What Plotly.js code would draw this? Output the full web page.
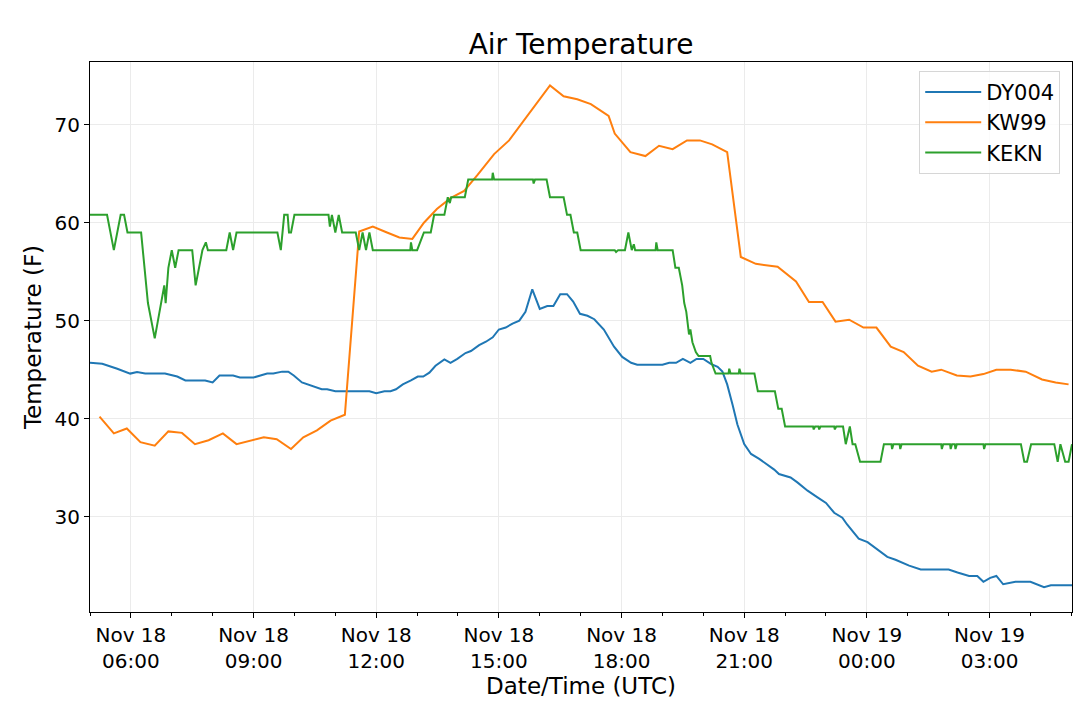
<!DOCTYPE html>
<html>
<head>
<meta charset="utf-8">
<script src="https://cdn.plot.ly/plotly-3.0.1.min.js"></script>
<style>
  html, body { margin: 0; padding: 0; background: #fff; }
  #chart { width: 1080px; height: 706px; }
</style>
</head>
<body>
<div id="chart"></div>
<script>
// times are "DD HH:MM" in November 2019 (UTC)
const dyTimes = [
  "18 05:00", "18 05:18", "18 05:40", "18 05:59", "18 06:09", "18 06:21", "18 06:50", "18 07:08",
  "18 07:20", "18 07:49", "18 08:00", "18 08:10", "18 08:30", "18 08:40", "18 09:00", "18 09:20",
  "18 09:29", "18 09:42", "18 09:51", "18 09:59", "18 10:11", "18 10:28", "18 10:40", "18 10:48",
  "18 11:00", "18 11:50", "18 12:00", "18 12:12", "18 12:21", "18 12:29", "18 12:39", "18 12:51",
  "18 13:01", "18 13:09", "18 13:18", "18 13:27", "18 13:40", "18 13:49", "18 13:59", "18 14:11",
  "18 14:19", "18 14:31", "18 14:41", "18 14:51", "18 15:00", "18 15:10", "18 15:20", "18 15:30",
  "18 15:39", "18 15:49", "18 16:00", "18 16:11", "18 16:20", "18 16:30", "18 16:40", "18 16:49",
  "18 16:59", "18 17:10", "18 17:20", "18 17:34", "18 17:49", "18 18:01", "18 18:14", "18 18:23",
  "18 19:00", "18 19:10", "18 19:20", "18 19:30", "18 19:41", "18 19:50", "18 20:00", "18 20:11",
  "18 20:21", "18 20:28", "18 20:35", "18 20:43", "18 20:50", "18 21:00", "18 21:10", "18 21:22",
  "18 21:34", "18 21:44", "18 21:51", "18 22:08", "18 22:18", "18 22:33", "18 22:47", "18 23:00",
  "18 23:12", "18 23:24", "18 23:31", "18 23:41", "18 23:48", "19 00:01", "19 00:15", "19 00:30",
  "19 00:42", "19 01:02", "19 01:19", "19 02:00", "19 02:13", "19 02:30", "19 02:42", "19 02:51",
  "19 03:01", "19 03:10", "19 03:20", "19 03:38", "19 04:00", "19 04:20", "19 04:30", "19 05:01"
];
const dyTemps = [
  45.7, 45.6, 45.1, 44.6, 44.75, 44.6, 44.6, 44.3,
  43.9, 43.9, 43.7, 44.4, 44.4, 44.2, 44.2, 44.6,
  44.6, 44.8, 44.8, 44.4, 43.7, 43.3, 43.0, 43.0,
  42.8, 42.8, 42.6, 42.8, 42.8, 43.0, 43.5, 43.9,
  44.3, 44.3, 44.7, 45.4, 46.05, 45.7, 46.1, 46.7,
  46.9, 47.5, 47.85, 48.3, 49.1, 49.3, 49.7, 50.0,
  50.9, 53.2, 51.2, 51.5, 51.5, 52.7, 52.7, 51.95,
  50.7, 50.5, 50.15, 49.1, 47.35, 46.3, 45.7, 45.5,
  45.5, 45.7, 45.7, 46.1, 45.7, 46.1, 46.1, 45.6,
  45.3, 44.8, 43.5, 41.4, 39.4, 37.4, 36.4, 35.9,
  35.3, 34.8, 34.35, 34.0, 33.5, 32.65, 32.0, 31.4,
  30.4, 29.9, 29.2, 28.3, 27.75, 27.4, 26.7, 25.9,
  25.6, 25.0, 24.6, 24.6, 24.3, 23.95, 23.95, 23.35,
  23.75, 23.95, 23.1, 23.35, 23.35, 22.8, 23.0, 23.0
];

const kwTimes = [
  "18 05:14", "18 05:35", "18 05:54", "18 06:14", "18 06:35", "18 06:55", "18 07:15", "18 07:34",
  "18 07:54", "18 08:15", "18 08:35", "18 08:55", "18 09:15", "18 09:34", "18 09:55", "18 10:13",
  "18 10:33", "18 10:53", "18 11:14", "18 11:35", "18 11:55", "18 12:14", "18 12:34", "18 12:53",
  "18 13:10", "18 13:29", "18 13:49", "18 14:09", "18 14:29", "18 14:53", "18 15:15", "18 16:15",
  "18 16:35", "18 16:55", "18 17:15", "18 17:41", "18 17:50", "18 18:13", "18 18:35", "18 18:55",
  "18 19:15", "18 19:36", "18 19:55", "18 20:13", "18 20:35", "18 20:55", "18 21:17", "18 21:49",
  "18 22:16", "18 22:35", "18 22:55", "18 23:14", "18 23:34", "18 23:55", "19 00:14", "19 00:35",
  "19 00:54", "19 01:15", "19 01:35", "19 01:49", "19 02:12", "19 02:32", "19 02:51", "19 03:10",
  "19 03:31", "19 03:53", "19 04:17", "19 04:37", "19 04:56"
];
const kwTemps = [
  40.2, 38.5, 39.0, 37.6, 37.25, 38.7, 38.55, 37.4,
  37.8, 38.5, 37.4, 37.75, 38.1, 37.9, 36.9, 38.1,
  38.8, 39.8, 40.4, 59.1, 59.6, 59.05, 58.5, 58.35,
  60.0, 61.4, 62.5, 63.25, 64.9, 67.0, 68.4, 74.0,
  72.9, 72.6, 72.1, 70.9, 69.1, 67.2, 66.8, 67.85,
  67.5, 68.4, 68.4, 68.0, 67.2, 56.5, 55.8, 55.5,
  54.0, 51.9, 51.9, 49.9, 50.1, 49.3, 49.3, 47.35,
  46.8, 45.4, 44.8, 45.0, 44.4, 44.3, 44.55, 45.0,
  45.0, 44.8, 44.0, 43.7, 43.5
];

const ekTimes = [
  "18 05:00", "18 05:25", "18 05:35", "18 05:45", "18 05:50", "18 05:55", "18 06:15", "18 06:25",
  "18 06:35", "18 06:49", "18 06:51", "18 06:53", "18 06:55", "18 07:00", "18 07:05", "18 07:10",
  "18 07:30", "18 07:35", "18 07:45", "18 07:50", "18 07:53", "18 08:20", "18 08:25", "18 08:30",
  "18 08:35", "18 09:35", "18 09:40", "18 09:45", "18 09:50", "18 09:52", "18 09:55", "18 10:00",
  "18 10:50", "18 10:52", "18 10:55", "18 11:00", "18 11:05", "18 11:10", "18 11:30", "18 11:35",
  "18 11:40", "18 11:45", "18 11:50", "18 11:55", "18 12:50", "18 12:51", "18 12:53", "18 13:00",
  "18 13:10", "18 13:20", "18 13:25", "18 13:40", "18 13:45", "18 13:48", "18 13:50", "18 14:10",
  "18 14:15", "18 14:50", "18 14:51", "18 14:53", "18 15:50", "18 15:51", "18 15:53", "18 16:10",
  "18 16:15", "18 16:35", "18 16:40", "18 16:45", "18 16:50", "18 16:55", "18 17:00", "18 17:50",
  "18 17:52", "18 17:55", "18 18:05", "18 18:10", "18 18:15", "18 18:18", "18 18:20", "18 18:50",
  "18 18:51", "18 18:53", "18 19:15", "18 19:19", "18 19:24", "18 19:29", "18 19:32", "18 19:35",
  "18 19:39", "18 19:41", "18 19:44", "18 19:49", "18 19:53", "18 20:10", "18 20:12", "18 20:18",
  "18 20:37", "18 20:38", "18 20:40", "18 20:52", "18 20:53", "18 20:55", "18 21:15", "18 21:20",
  "18 21:45", "18 21:50", "18 21:55", "18 22:00", "18 22:41", "18 22:42", "18 22:44", "18 22:49",
  "18 22:50", "18 22:52", "18 23:12", "18 23:13", "18 23:15", "18 23:25", "18 23:29", "18 23:35",
  "18 23:39", "18 23:43", "18 23:48", "18 23:50", "19 00:20", "19 00:25", "19 00:36", "19 00:37",
  "19 00:39", "19 00:48", "19 00:49", "19 00:51", "19 01:49", "19 01:50", "19 01:52", "19 02:02",
  "19 02:03", "19 02:05", "19 02:09", "19 02:10", "19 02:12", "19 02:51", "19 02:52", "19 02:54",
  "19 03:46", "19 03:51", "19 03:55", "19 04:01", "19 04:35", "19 04:40", "19 04:44", "19 04:51",
  "19 04:56", "19 05:01"
];
const ekTemps = [
  60.8, 60.8, 57.2, 60.8, 60.8, 59, 59, 51.8,
  48.2, 53.6, 51.8, 53.6, 55.4, 57.2, 55.4, 57.2,
  57.2, 53.6, 57.2, 58, 57.2, 57.2, 59, 57.2,
  59, 59, 57.2, 60.8, 60.8, 59, 59, 60.8,
  60.8, 59.6, 60.8, 59, 60.8, 59, 59, 57.2,
  59, 57.2, 59, 57.2, 57.2, 58, 57.2, 57.2,
  59, 59, 60.8, 60.8, 62.6, 62, 62.6, 62.6,
  64.4, 64.4, 65.1, 64.4, 64.4, 64, 64.4, 64.4,
  62.6, 62.6, 60.8, 60.8, 59, 59, 57.2, 57.2,
  57, 57.2, 57.2, 59, 57.2, 57.8, 57.2, 57.2,
  58, 57.2, 57.2, 55.4, 55.4, 53.6, 51.8, 50.9,
  48.6, 49.1, 47.8, 46.8, 46.4, 46.4, 45.7, 44.6,
  44.6, 45.1, 44.6, 44.6, 45.1, 44.6, 44.6, 42.8,
  42.8, 41, 41, 39.2, 39.2, 38.9, 39.2, 39.2,
  38.9, 39.2, 39.2, 38.9, 39.2, 39.2, 37.4, 39.2,
  37.4, 37.4, 36.1, 35.6, 35.6, 37.4, 37.4, 36.9,
  37.4, 37.4, 36.9, 37.4, 37.4, 36.9, 37.4, 37.4,
  36.9, 37.4, 37.4, 36.9, 37.4, 37.4, 36.9, 37.4,
  37.4, 35.6, 35.6, 37.4, 37.4, 35.6, 37.4, 35.6,
  35.6, 37.4
];

const tickTimes = ["18 06:00", "18 09:00", "18 12:00", "18 15:00", "18 18:00", "18 21:00", "19 00:00", "19 03:00"];
const tickLabels = [
  "Nov 18<br>06:00", "Nov 18<br>09:00", "Nov 18<br>12:00", "Nov 18<br>15:00",
  "Nov 18<br>18:00", "Nov 18<br>21:00", "Nov 19<br>00:00", "Nov 19<br>03:00"
];

const toDate = s => "2019-11-" + s;

function line(name, times, temps, color) {
  return {
    x: times.map(toDate),
    y: temps,
    name: name,
    type: "scatter",
    mode: "lines",
    line: {color: color, width: 2}
  };
}

const traces = [
  line("DY004", dyTimes, dyTemps, "#1f77b4"),
  line("KW99", kwTimes, kwTemps, "#ff7f0e"),
  line("KEKN", ekTimes, ekTemps, "#2ca02c")
];

const layout = {
  width: 1080,
  height: 706,
  autosize: false,
  margin: {l: 90, r: 8, t: 62, b: 94},
  paper_bgcolor: "#fff",
  plot_bgcolor: "#fff",
  font: {family: "DejaVu Sans, sans-serif", color: "#000"},
  title: {
    text: "Air Temperature",
    font: {size: 28, color: "#000"},
    xref: "paper", x: 0.5, xanchor: "center",
    yref: "container", y: 1 - 44 / 706, yanchor: "middle"
  },
  xaxis: {
    type: "date",
    range: [toDate("18 05:00"), toDate("19 05:01")],
    tickvals: tickTimes.map(toDate),
    ticktext: tickLabels,
    tickfont: {size: 20},
    ticks: "outside", ticklen: 5, tickcolor: "#000",
    showline: true, mirror: true, linecolor: "#000", linewidth: 1,
    showgrid: true, gridcolor: "#ebebeb", gridwidth: 1,
    zeroline: false,
    minor: {tick0: toDate("18 05:00"), dtick: 3600000, ticks: "outside", ticklen: 3, tickcolor: "#000", showgrid: false},
    title: {text: "Date/Time (UTC)", font: {size: 23}, standoff: 0}
  },
  yaxis: {
    range: [20.27, 76.4],
    tick0: 0, dtick: 10,
    tickfont: {size: 20},
    ticks: "outside", ticklen: 5, tickcolor: "#000",
    showline: true, mirror: true, linecolor: "#000", linewidth: 1,
    showgrid: true, gridcolor: "#ebebeb", gridwidth: 1,
    zeroline: false,
    title: {text: "Temperature (F)", font: {size: 23}, standoff: 6}
  },
  showlegend: true,
  legend: {
    x: 0.988, xanchor: "right",
    y: 0.984, yanchor: "top",
    itemwidth: 56,
    bgcolor: "rgba(255,255,255,0.8)",
    bordercolor: "#d6d6d6", borderwidth: 1,
    font: {size: 21, color: "#000"}
  }
};

Plotly.newPlot("chart", traces, layout, {staticPlot: true, displayModeBar: false});
</script>
</body>
</html>
